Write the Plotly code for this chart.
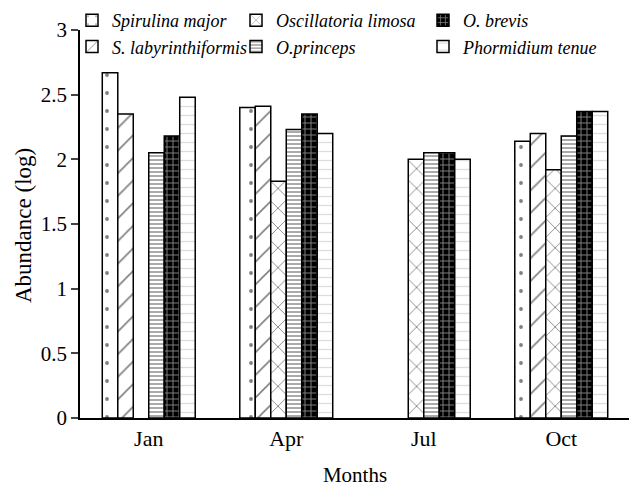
import plotly.graph_objects as go

months = ["Jan", "Apr", "Jul", "Oct"]
species = ["Spirulina major", "S. labyrinthiformis", "Oscillatoria limosa",
           "O.princeps", "O. brevis", "Phormidium tenue"]
spirulina = [2.67, 2.40, None, 2.14]
s_laby = [2.35, 2.41, None, 2.20]
oscill = [None, 1.83, 2.00, 1.92]
princeps = [2.05, 2.23, 2.05, 2.18]
brevis = [2.18, 2.35, 2.05, 2.37]
phorm = [2.48, 2.20, 2.00, 2.37]
values = [spirulina, s_laby, oscill, princeps, brevis, phorm]
y_ticks = [0, 0.5, 1, 1.5, 2, 2.5, 3]

patterns = [
    dict(shape=".", fgcolor="black", bgcolor="white", size=18, solidity=0.035),
    dict(shape="/", fgcolor="black", bgcolor="white", size=16, solidity=0.1),
    dict(shape="x", fgcolor="black", bgcolor="white", size=14, solidity=0.12),
    dict(shape="-", fgcolor="#444", bgcolor="white", size=4, solidity=0.45),
    dict(shape="+", fgcolor="white", bgcolor="black", size=6, solidity=0.3),
    dict(shape="-", fgcolor="#bbbbbb", bgcolor="white", size=9, solidity=0.15),
]
legend_ids = ["legend", "legend", "legend2", "legend2", "legend3", "legend3"]

fig = go.Figure()
for name, vals, pat, lg in zip(species, values, patterns, legend_ids):
    fig.add_trace(go.Bar(
        x=months, y=vals, name=name, legend=lg,
        marker=dict(color="white", pattern=pat,
                    line=dict(color="black", width=1.5)),
    ))

serif = "Liberation Serif"
leg_common = dict(orientation="v", xref="paper", yref="paper",
                  xanchor="left", yanchor="top", bgcolor="rgba(0,0,0,0)",
                  font=dict(family=serif, size=18, style="italic", color="black"),
                  itemwidth=30, tracegroupgap=0)

# page body has an 8px margin; coordinates below are in figure pixels
PW, PH, L, T = 550, 388, 72, 22

def px_x(p):
    return (p - 8 - L) / PW

def px_y(p):
    return 1 - (p - 8 - T) / PH

fig.update_layout(
    width=629, height=479,
    margin=dict(l=L, r=7, t=T, b=69, autoexpand=False),
    paper_bgcolor="white", plot_bgcolor="white",
    barmode="group", bargap=0.324, bargroupgap=0,
    font=dict(family=serif, color="black"),
    legend=dict(x=px_x(72), y=px_y(2), **leg_common),
    legend2=dict(x=px_x(236), y=px_y(2), **leg_common),
    legend3=dict(x=px_x(423), y=px_y(2), **leg_common),
    xaxis=dict(type="category", range=[-0.5, 3.5], showline=True, linecolor="black",
               linewidth=1.5, ticks="", tickfont=dict(size=22, family=serif),
               title=dict(text="Months", font=dict(size=21, family=serif), standoff=22),
               showgrid=False, zeroline=False, automargin=False),
    yaxis=dict(range=[0, 3], tickvals=y_ticks, showline=True, linecolor="black",
               linewidth=1.5, ticks="outside", ticklen=7, tickwidth=1.5,
               tickfont=dict(size=21, family=serif), showgrid=False, zeroline=False,
               automargin=False),
    annotations=[dict(text="Abundance (log)", xref="paper", yref="paper",
                      x=px_x(23), y=px_y(226), xanchor="center", yanchor="middle",
                      textangle=-90, showarrow=False,
                      font=dict(size=23, family=serif, color="black"))],
)

fig.write_html("out.html")
